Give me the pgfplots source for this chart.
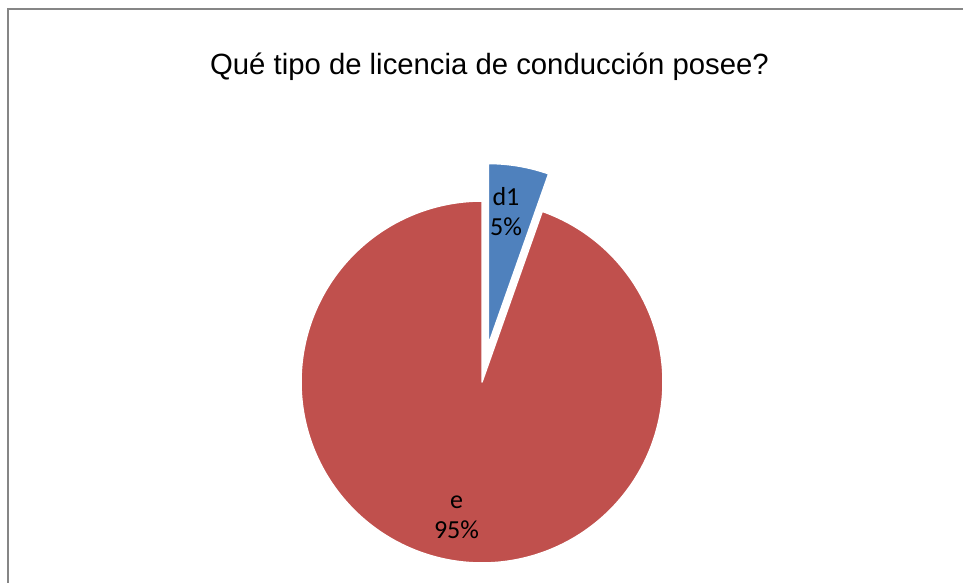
\documentclass[border=0pt]{standalone}
\usepackage{pgfplots}
\pgfplotsset{compat=1.18}
\usepackage{pgfplotstable}
\usepackage{fontspec}
\setmainfont{Carlito}
\newfontfamily\titlefont{Liberation Sans}
\definecolor{pieblue}{HTML}{4F81BD}
\definecolor{piered}{HTML}{C0504D}
\definecolor{framegray}{HTML}{868686}

\pgfplotstableread{
label value
d1 5.4
e 94.6
}\piedata

\begin{document}
\begin{tikzpicture}
\useasboundingbox (0,0) rectangle (963pt,582pt);
\pgfplotstablegetelem{0}{value}\of\piedata \let\vA\pgfplotsretval
\pgfplotstablegetelem{1}{value}\of\piedata \let\vB\pgfplotsretval
\pgfmathsetmacro\angA{360*\vA/(\vA+\vB)}
\pgfmathsetmacro\startA{90-\angA}
\pgfmathsetmacro\midA{90-\angA/2}
\pgfmathsetmacro\cxA{482+38*cos(\midA)}
\pgfmathsetmacro\cyA{200+38*sin(\midA)}
\draw[framegray, line width=1.5pt] (8pt,-10pt) rectangle (975pt,573pt);
\begin{axis}[at={(0,0)}, anchor=south west, x=1pt, y=1pt,
  xmin=0, xmax=963, ymin=0, ymax=582, hide axis, clip=false]
\addplot[fill=piered, draw=white, line width=1.5pt, line join=round,
  domain=-270:\startA, samples=240, variable=\t]
  ({482+181*cos(\t)},{200+181*sin(\t)}) -- (axis cs:482,200) -- cycle;
\addplot[fill=pieblue, draw=white, line width=1.5pt, line join=round,
  domain=\startA:90, samples=40, variable=\t]
  ({\cxA+181*cos(\t)},{\cyA+181*sin(\t)}) -- (axis cs:\cxA,\cyA) -- cycle;
\node[align=center, font=\fontsize{26}{30}\selectfont] at (axis cs:506,370) {d1\\5\%};
\node[align=center, font=\fontsize{26}{30}\selectfont] at (axis cs:456.5,65) {e\\95\%};
\node[anchor=base, font=\titlefont\fontsize{29.3}{34}\selectfont] at (axis cs:489.5,507)
  {Qué tipo de licencia de conducción posee?};
\end{axis}
\end{tikzpicture}
\end{document}
